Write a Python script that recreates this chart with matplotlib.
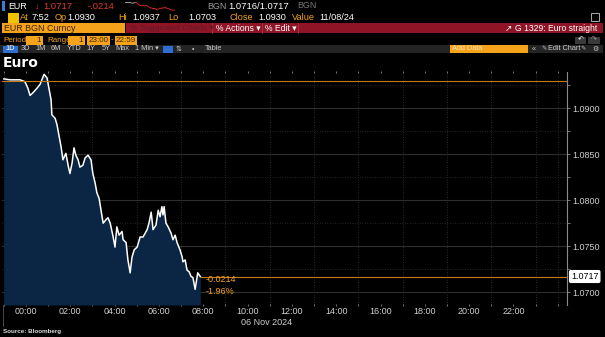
import pandas as pd
import matplotlib
matplotlib.use("Agg")
import matplotlib.pyplot as plt
import matplotlib.dates as mdates
from matplotlib.patches import Rectangle
from matplotlib.transforms import blended_transform_factory

# EUR BGN Curncy, 1 Min, 06 Nov 2024 (23:00 previous day .. 07:52)
times = ["23:00", "23:17", "23:30", "23:44", "23:57", "00:05", "00:11", "00:19",
         "00:30", "00:38", "00:43", "00:49", "00:57", "01:02", "01:08", "01:10",
         "01:19", "01:24", "01:29", "01:35", "01:40", "01:48", "01:54", "01:59",
         "02:05", "02:10", "02:15", "02:21", "02:26", "02:34", "02:40", "02:48",
         "02:56", "03:01", "03:07", "03:12", "03:18", "03:26", "03:29", "03:37",
         "03:42", "03:48", "03:56", "04:01", "04:06", "04:12", "04:20", "04:23",
         "04:31", "04:36", "04:42", "04:47", "04:53", "05:01", "05:09", "05:17",
         "05:28", "05:33", "05:39", "05:44", "05:52", "05:58", "06:03", "06:08",
         "06:11", "06:14", "06:19", "06:25", "06:33", "06:38", "06:44", "06:49",
         "06:57", "07:03", "07:05", "07:11", "07:16", "07:22", "07:27", "07:32",
         "07:38", "07:45", "07:52"]
prices = [1.0932, 1.0931, 1.0931, 1.0931, 1.0929, 1.0922, 1.0914, 1.0917,
          1.0922, 1.0926, 1.0931, 1.0937, 1.0933, 1.0922, 1.0909, 1.0893,
          1.0889, 1.0882, 1.0871, 1.0858, 1.0844, 1.0851, 1.0838, 1.0829,
          1.0841, 1.0857, 1.0849, 1.0844, 1.0836, 1.0838, 1.0846, 1.0849,
          1.0844, 1.0829, 1.0819, 1.0808, 1.0802, 1.0782, 1.0775, 1.0779,
          1.0781, 1.0775, 1.0760, 1.0749, 1.0771, 1.0762, 1.0766, 1.0757,
          1.0754, 1.0735, 1.0721, 1.0738, 1.0746, 1.0749, 1.0760, 1.0760,
          1.0768, 1.0775, 1.0787, 1.0768, 1.0773, 1.0789, 1.0782, 1.0793,
          1.0784, 1.0793, 1.0775, 1.0771, 1.0764, 1.0757, 1.0762, 1.0754,
          1.0746, 1.0738, 1.0733, 1.0735, 1.0724, 1.0722, 1.0717, 1.0716,
          1.0703, 1.0721, 1.0717]
prev_close = 1.0930
last_price = 1.0717
change = -0.0214
change_pct = -1.96
y_ticks = [1.0700, 1.0750, 1.0800, 1.0850, 1.0900]
x_tick_hours = list(range(0, 24, 2))

# шапка терминала
quote_row = [("At", "7:52", 20, 32), ("Op", "1.0930", 55, 67), ("Hi", "1.0937", 118, 132),
             ("Lo", "1.0703", 168, 188), ("Close", "1.0930", 230, 258),
             ("Value", "11/08/24", 292, 319)]
periods = [("1D", 10.5), ("3D", 25), ("1M", 41), ("6M", 56), ("YTD", 74), ("1Y", 91),
           ("5Y", 106), ("Max", 122), ("1 Min ▾", 147)]

ORANGE = "#f5a31a"
RED = "#e23b2e"
BARRED = "#8e1426"
GREY = "#c8c8c8"
FILL = "#0b2545"

plt.rcParams["font.family"] = ["Liberation Sans", "DejaVu Sans"]

ts = pd.to_datetime([("2024-11-05 " if t.startswith("23") else "2024-11-06 ") + t for t in times])

fig = plt.figure(figsize=(6.05, 3.37), dpi=100, facecolor="black")

# слой для интерфейса, координаты в пикселях
ui = fig.add_axes([0, 0, 1, 1], zorder=0)
ui.set_xlim(0, 605)
ui.set_ylim(337, 0)
ui.axis("off")


def txt(x, y, s, color="white", size=6.4, **kw):
    ui.text(x, y, s, color=color, fontsize=size, va="center", **kw)


def box(x0, y0, x1, y1, color, **kw):
    ui.add_patch(Rectangle((x0, y0), x1 - x0, y1 - y0, facecolor=color, edgecolor="none", **kw))


# строка 1
box(2, 1, 4.5, 11, "#3a7bd5")
txt(8, 6.5, "EUR")
txt(35, 6.5, "↓", color=RED)
txt(43, 6.5, "%.4f" % last_price, color=RED, size=6.8)
txt(88, 6.5, "-.0214", color=RED, size=6.8)
txt(207, 6.5, "BGN", color="#9a9a9a")
txt(228, 6.5, "1.0716/1.0717", size=6.8)
txt(297, 5, "BGN", color="#777777")

# строка 2
box(8, 13, 18.5, 22.5, "#f2c200")
for lab, val, xl, xv in quote_row:
    txt(xl, 18, lab, color=ORANGE, size=6.6)
    txt(xv, 18, val, size=6.6)
ui.add_patch(Rectangle((591, 13), 8, 8, facecolor="none", edgecolor="#aaaaaa", lw=0.7))

# строка 3
box(2, 23, 125, 33, ORANGE)
txt(4, 28.5, "EUR BGN Curncy", color="#3b2200", size=6.4)
box(126, 23, 603, 33, BARRED)
txt(130, 28.5, "% Suggested Charts ▾", color="#5e1a26", size=6)
txt(216, 28.5, "% Actions ▾", size=6.2)
txt(265, 28.5, "% Edit ▾", size=6.2)
for xs in (212, 262, 298):
    ui.plot([xs, xs], [23, 33], color="#b03040", lw=0.6)
txt(505, 28.5, "↗", size=6.2)
txt(597, 28.5, "G 1329: Euro straight", size=6.2, ha="right")

# строка 4
txt(3, 40, "Period", color=ORANGE, size=5.8)
box(26, 36, 43, 44.5, ORANGE)
txt(41, 40, "1", color="#3b2200", size=5.8, ha="right")
txt(47, 40, "Range", color=ORANGE, size=5.8)
box(68, 36, 85, 44.5, ORANGE)
txt(83, 40, "1", color="#3b2200", size=5.8, ha="right")
box(87, 36, 110, 44.5, ORANGE)
txt(98.5, 40, "23:00", color="#3b2200", size=5.8, ha="center")
txt(111, 40, "-", color=ORANGE, size=5.8)
box(115, 36, 137, 44.5, ORANGE)
txt(126, 40, "22:59", color="#3b2200", size=5.8, ha="center")
box(575, 36.5, 586, 43.5, "#3a3a3a")
box(587.5, 36.5, 600, 43.5, "#3a3a3a")
txt(580.5, 40, "↶", size=5, ha="center")
txt(593.7, 40, "↷", size=5, ha="center", color="#999999")

# строка 5
box(0, 45, 603, 52.5, "#242424")
box(3, 45.5, 18, 52.5, "#2d6fd0")
for lab, xc in periods:
    txt(xc, 49, lab, color="white" if lab == "1D" else GREY, size=5.3, ha="center")
box(163, 45.5, 173, 52.5, "#2d6fd0")
txt(179, 49, "⇅", color=GREY, size=5, ha="center")
txt(193, 49, "•", color=GREY, size=5, ha="center")
txt(214, 49, "Table", color=GREY, size=5.3, ha="center")
box(450, 44.5, 528, 52.5, ORANGE)
txt(452, 48.7, "Add Data", color="#fde3b5", size=5.3)
txt(532, 49, "«", color=GREY, size=5.3)
txt(541, 49, "✎", color=GREY, size=4.6)
txt(548, 49, "Edit Chart", color=GREY, size=5.3)
txt(583, 49, "✎", color=GREY, size=4.6, ha="center")
txt(595, 49, "⚙", color=GREY, size=5, ha="center")

# заголовок
ui.text(3, 63, "Euro", color="white", fontsize=10, fontweight="bold", va="center",
        family="DejaVu Sans")

# мини-график в шапке
spark = fig.add_axes([123 / 605, 1 - 11 / 337, 54 / 605, 9 / 337], zorder=2)
spark.axis("off")
spark.set_facecolor("none")
peak = prices.index(max(prices))
spark.plot(ts[:peak + 1], prices[:peak + 1], color="#bbbbbb", lw=0.6)
spark.plot(ts[peak:], prices[peak:], color="#d8282a", lw=0.6)

# основной график
ax = fig.add_axes([2 / 605, 1 - 305 / 337, 565 / 605, 233 / 337], zorder=1)
ax.set_facecolor("black")
x_left = pd.Timestamp("2024-11-05 22:55")
x_right = pd.Timestamp("2024-11-07 00:25")
ax.set_xlim(x_left, x_right)
y_bottom = 1.0686
ax.set_ylim(y_bottom, 1.09395)

ax.fill_between(ts, prices, y_bottom, color=FILL, lw=0)
ax.plot(ts, prices, color="white", lw=1.1)
ax.axhline(prev_close, color="#c77a12", lw=0.8)
ax.hlines(last_price, ts[-1], x_right, color="#c77a12", lw=0.8)

for s in ["left", "top", "bottom"]:
    ax.spines[s].set_visible(False)
ax.spines["right"].set_color("#8a8a8a")
ax.spines["right"].set_linewidth(0.8)

day = pd.Timestamp("2024-11-06")
ax.set_xticks([day + pd.Timedelta(hours=h) for h in x_tick_hours])
ax.xaxis.set_major_formatter(mdates.DateFormatter("%H:%M"))
ax.xaxis.set_minor_locator(mdates.HourLocator())
ax.tick_params(axis="x", which="both", colors="#8a8a8a", labelcolor="#d0d0d0",
               labelsize=6.5, length=2, width=0.6, top=True, direction="inout", pad=0.5)

ax.yaxis.tick_right()
ax.set_yticks(y_ticks)
ax.set_yticklabels(["%.4f" % v for v in y_ticks])
ax.set_yticks([v + 0.0025 for v in y_ticks], minor=True)
ax.tick_params(axis="y", which="both", colors="#8a8a8a", labelcolor="#d0d0d0",
               labelsize=6.5, length=2, width=0.6, pad=1.5)

ax.grid(True, which="minor", axis="x", color="#383838", lw=0.6, ls=(0, (1, 2)))
ax.grid(True, which="major", axis="y", color="#2e2e2e", lw=0.8)
ax.grid(True, which="minor", axis="y", color="#303030", lw=0.6, ls=(0, (1, 2)))
ax.set_axisbelow(True)

# подписи изменения и последней цены
ax.annotate("%.4f" % change, (ts[-1], last_price), xytext=(5, -3), textcoords="offset pixels",
            color=ORANGE, fontsize=6.5, va="center")
ax.annotate("%.2f%%" % change_pct, (ts[-1], last_price), xytext=(5, -15), textcoords="offset pixels",
            color=ORANGE, fontsize=6.5, va="center")
trans = blended_transform_factory(ax.transAxes, ax.transData)
ax.text(1.007, last_price, "%.4f" % last_price, transform=trans, fontsize=6.5, color="black",
        va="center", ha="left",
        bbox=dict(boxstyle="round,pad=0.15", facecolor="white", edgecolor="white"))

# кнопка Annotate
box(305, 293, 341, 301, "#2a2a2a", zorder=3)
txt(307, 297, "⁄ Annotate", color="#9a9a9a", size=4.3, zorder=4)

# низ
ui.plot([3, 3], [305, 326], color="#555555", lw=0.6)
txt(267, 322.5, "06 Nov 2024", color="#d0d0d0", size=6.5, ha="center")
txt(3, 331, "Source: Bloomberg", color="#dddddd", size=4.5, fontweight="bold")

fig.savefig("out.png", dpi=100, facecolor="black")
